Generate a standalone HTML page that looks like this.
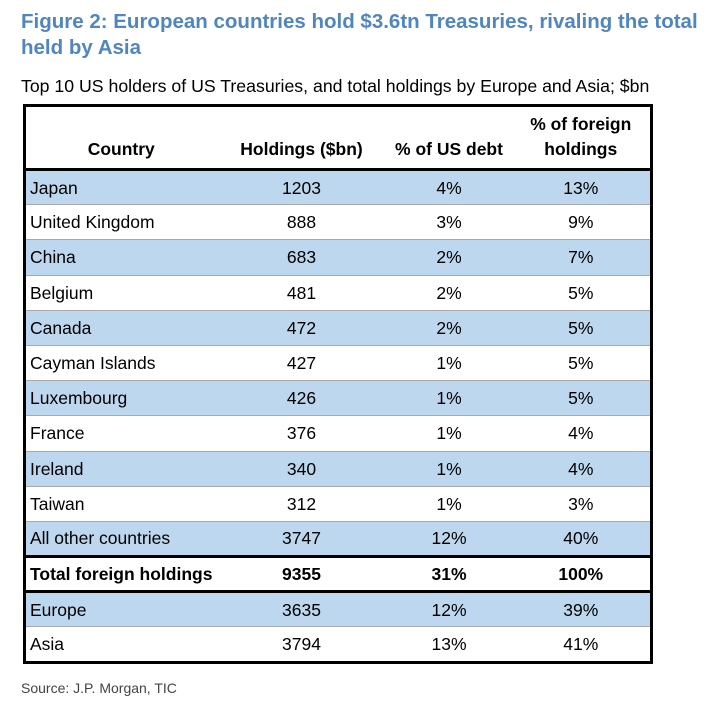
<!DOCTYPE html>
<html><head><meta charset="utf-8"><style>
body{margin:0;width:724px;height:706px;background:#fff;font-family:"Liberation Sans",sans-serif;position:relative;overflow:hidden}
.t{position:absolute;left:21px;top:9px;color:#4f86c0;font-weight:bold;font-size:20.5px;line-height:26px;width:700px}
.s{position:absolute;left:21px;top:76px;font-size:17.7px;color:#000;white-space:nowrap}
.src{position:absolute;left:21px;top:680px;font-size:14px;color:#444}
table{position:absolute;left:23px;top:104px;width:630px;border-collapse:collapse;border:3px solid #000;font-size:17.5px;table-layout:fixed}
td,th{padding:0;height:35.2px;line-height:20px;text-align:center;border-bottom:1px solid #aaa;box-sizing:border-box}
td:first-child{text-align:left;padding-left:4px}
th{font-weight:bold;height:64px;vertical-align:bottom;padding-bottom:6px;line-height:25px;border-bottom:3px solid #000}
tr.b td{background:#bdd7ee}
tr.tot td{font-weight:bold;border-top:3px solid #000;border-bottom:3px solid #000}
</style></head><body>
<div class="t">Figure 2: European countries hold $3.6tn Treasuries, rivaling the total held by Asia</div>
<div class="s">Top 10 US holders of US Treasuries, and total holdings by Europe and Asia; $bn</div>
<table>
<colgroup><col style="width:192px"><col style="width:170px"><col style="width:125px"><col></colgroup>
<tr><th>Country</th><th>Holdings ($bn)</th><th>% of US debt</th><th>% of foreign<br>holdings</th></tr>
<tr class="b"><td>Japan</td><td>1203</td><td>4%</td><td>13%</td></tr>
<tr><td>United Kingdom</td><td>888</td><td>3%</td><td>9%</td></tr>
<tr class="b"><td>China</td><td>683</td><td>2%</td><td>7%</td></tr>
<tr><td>Belgium</td><td>481</td><td>2%</td><td>5%</td></tr>
<tr class="b"><td>Canada</td><td>472</td><td>2%</td><td>5%</td></tr>
<tr><td>Cayman Islands</td><td>427</td><td>1%</td><td>5%</td></tr>
<tr class="b"><td>Luxembourg</td><td>426</td><td>1%</td><td>5%</td></tr>
<tr><td>France</td><td>376</td><td>1%</td><td>4%</td></tr>
<tr class="b"><td>Ireland</td><td>340</td><td>1%</td><td>4%</td></tr>
<tr><td>Taiwan</td><td>312</td><td>1%</td><td>3%</td></tr>
<tr class="b"><td>All other countries</td><td>3747</td><td>12%</td><td>40%</td></tr>
<tr class="tot"><td>Total foreign holdings</td><td>9355</td><td>31%</td><td>100%</td></tr>
<tr class="b"><td>Europe</td><td>3635</td><td>12%</td><td>39%</td></tr>
<tr><td>Asia</td><td>3794</td><td>13%</td><td>41%</td></tr>
</table>
<div class="src">Source: J.P. Morgan, TIC</div>
</body></html>
